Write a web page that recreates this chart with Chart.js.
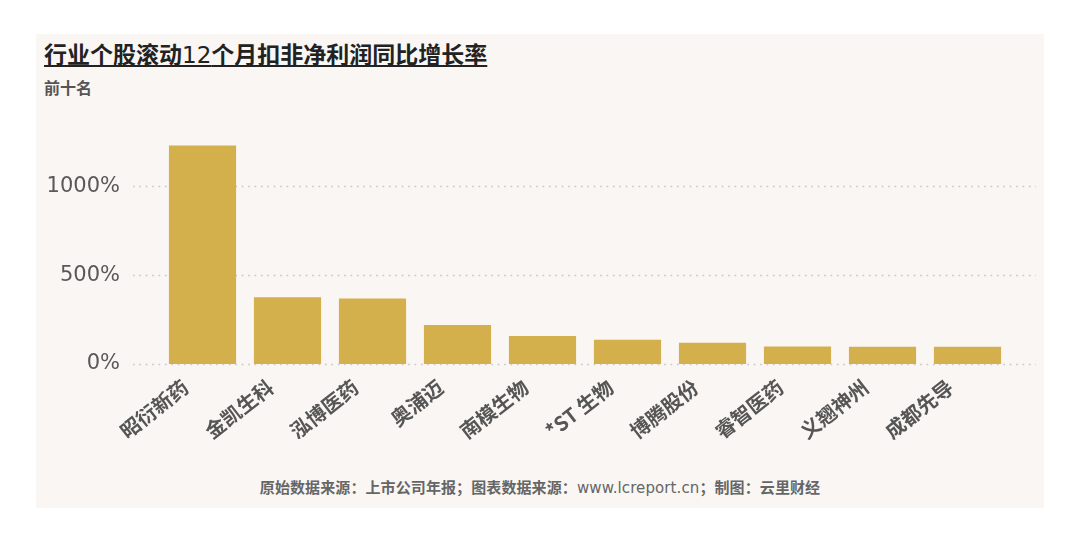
<!DOCTYPE html>
<html>
<head>
<meta charset="utf-8">
<script src="https://cdn.jsdelivr.net/npm/chart.js@4.4.1/dist/chart.umd.min.js"></script>
<style>
  html, body { margin: 0; padding: 0; background: #ffffff; }
  body { width: 1080px; height: 545px; position: relative; overflow: hidden; }
  #panel { position: absolute; left: 36px; top: 34px; width: 1008px; height: 474px; background: #f9f6f3; }
  #title { position: absolute; left: 44px; top: 38px; font: bold 23px "Noto Sans CJK SC", sans-serif; color: #222; line-height: 30px; text-decoration: underline; text-underline-offset: 2px; text-decoration-thickness: 2px; white-space: nowrap; }
  #title .num { font-family: "DejaVu Sans", sans-serif; font-weight: normal; }
  #subtitle { position: absolute; left: 44px; top: 76px; font: bold 16px "Noto Sans CJK SC", sans-serif; color: #555; line-height: 22px; }
  #footer { position: absolute; left: 0; width: 1080px; top: 476px; text-align: center; font: bold 15px "Noto Sans CJK SC", sans-serif; color: #666; line-height: 22px; letter-spacing: 0.1px; }
  #footer .url { font-family: "DejaVu Sans", sans-serif; font-weight: normal; }
  #wrap { position: absolute; left: 0; top: 0; width: 1080px; height: 545px; }
</style>
</head>
<body>
<div id="panel"></div>
<div id="title">行业个股滚动<span class="num">12</span>个月扣非净利润同比增长率</div>
<div id="subtitle">前十名</div>
<div id="footer">原始数据来源：上市公司年报；图表数据来源：<span class="url">www.lcreport.cn</span>；制图：云里财经</div>
<div id="wrap"><canvas id="chart" width="1080" height="545"></canvas></div>
<script>
const companies = ['昭衍新药', '金凯生科', '泓博医药', '奥浦迈', '南模生物', '*ST 生物', '博腾股份', '睿智医药', '义翘神州', '成都先导'];
const growthPct = [1230, 376, 368, 219, 157, 137, 120, 99, 97, 97];
const yTicks = [0, 500, 1000];

// dotted horizontal guides, a bit wider than the plot area
const dottedGrid = {
  id: 'dottedGrid',
  beforeDatasetsDraw(chart) {
    const { ctx, chartArea, scales } = chart;
    ctx.save();
    ctx.strokeStyle = '#c9c5c1';
    ctx.lineWidth = 1.6;
    ctx.setLineDash([1.6, 4.8]);
    yTicks.forEach(v => {
      const y = Math.round(scales.y.getPixelForValue(v)) + 0.5;
      ctx.beginPath();
      ctx.moveTo(chartArea.left - 27, y);
      ctx.lineTo(chartArea.right + 26, y);
      ctx.stroke();
    });
    ctx.restore();
  }
};

new Chart(document.getElementById('chart'), {
  type: 'bar',
  data: {
    labels: companies,
    datasets: [{
      data: growthPct,
      backgroundColor: '#d3b04b',
      borderWidth: 0,
      categoryPercentage: 1,
      barPercentage: 0.79
    }]
  },
  options: {
    responsive: false,
    animation: false,
    layout: { padding: { left: 36, right: 70, top: 133, bottom: 0 } },
    plugins: { legend: { display: false }, tooltip: { enabled: false } },
    scales: {
      x: {
        grid: { display: false },
        border: { display: false },
        ticks: {
          color: '#555',
          font: { family: '"Noto Sans CJK SC", sans-serif', size: 20, weight: 'bold' },
          minRotation: 38,
          maxRotation: 38,
          padding: 3,
          labelOffset: -17,
          autoSkip: false
        },
        afterFit(scale) { scale.height = 181; }
      },
      y: {
        min: 0,
        max: 1300,
        grid: { display: false },
        border: { display: false },
        ticks: {
          color: '#595959',
          padding: 32,
          font: { family: '"DejaVu Sans", sans-serif', size: 21 },
          callback: v => v + '%'
        },
        afterBuildTicks(scale) { scale.ticks = yTicks.map(v => ({ value: v })); },
        afterFit(scale) { scale.width = 124; }
      }
    }
  },
  plugins: [dottedGrid]
});
</script>
</body>
</html>
